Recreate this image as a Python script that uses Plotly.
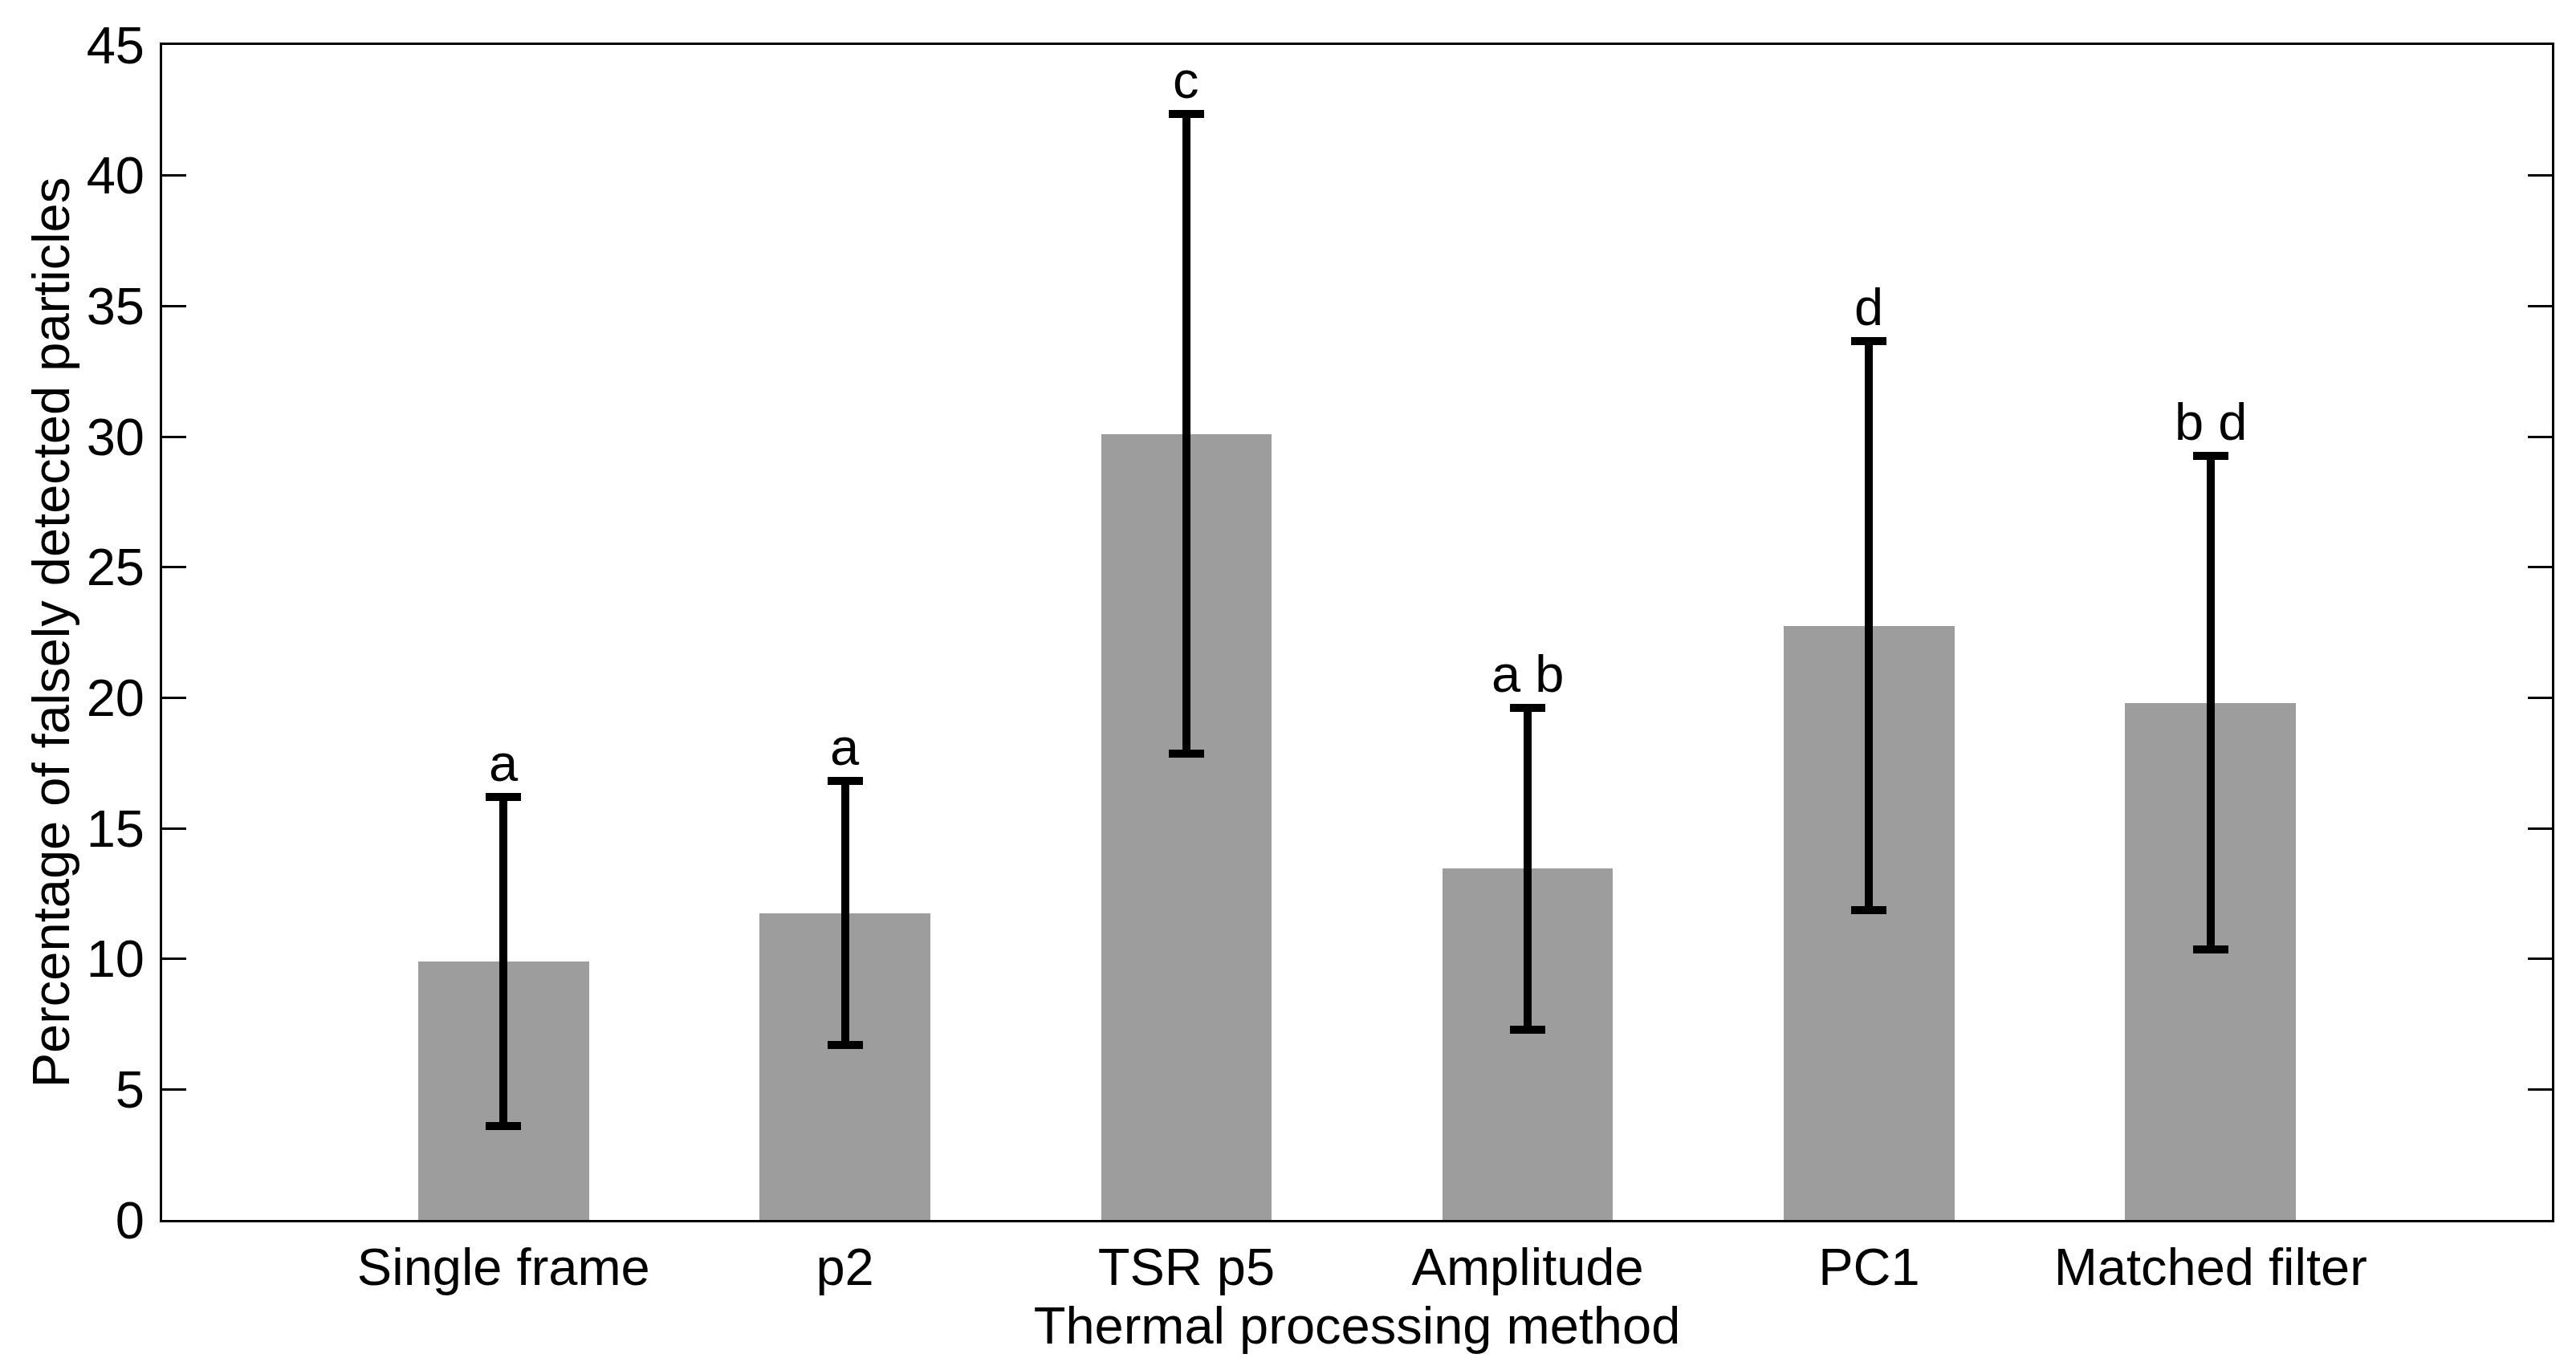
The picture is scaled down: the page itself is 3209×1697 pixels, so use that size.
import plotly.graph_objects as go

# bar chart data
methods = ['Single frame', 'p2', 'TSR p5', 'Amplitude', 'PC1', 'Matched filter']
positions = [1, 2, 3, 4, 5, 6]
mean_pct = [9.9, 11.75, 30.1, 13.45, 22.75, 19.8]
err_pct = [6.3, 5.05, 12.25, 6.15, 10.9, 9.45]
group_letters = ['a', 'a', 'c', 'a b', 'd', 'b d']

FONT = 'Liberation Sans, Arial, sans-serif'
FS = 65

fig = go.Figure()

fig.add_trace(go.Bar(
    x=positions,
    y=mean_pct,
    width=0.5,
    marker=dict(color='#9d9d9d', line=dict(width=0)),
    error_y=dict(type='data', array=err_pct, visible=True,
                 color='black', thickness=10, width=22),
    showlegend=False
))

# significance letters above each error bar
for xpos, m, e, txt in zip(positions, mean_pct, err_pct, group_letters):
    fig.add_annotation(x=xpos, y=m + e, text=txt, showarrow=False,
                       yanchor='bottom', yshift=4,
                       font=dict(family=FONT, size=FS, color='black'))

# page body adds an 8px margin, so the figure is a bit smaller than the window
fig.update_layout(
    width=3193,
    height=1681,
    margin=dict(l=194, r=22, t=41, b=169),
    plot_bgcolor='white',
    paper_bgcolor='white',
    font=dict(family=FONT, size=FS, color='black'),
    bargap=0,
    xaxis=dict(
        range=[0, 7],
        tickmode='array',
        tickvals=positions,
        ticktext=methods,
        ticks='',
        ticklabelstandoff=0,
        showline=True, linecolor='black', linewidth=3, mirror=True,
        showgrid=False, zeroline=False,
        title=dict(text='Thermal processing method', standoff=0,
                   font=dict(family=FONT, size=FS)),
    ),
    # top axis only carries the inward category ticks
    xaxis2=dict(
        overlaying='x', side='top', anchor='y',
        range=[0, 7],
        tickmode='array', tickvals=positions,
        ticks='inside', ticklen=30, tickwidth=3, tickcolor='black',
        showticklabels=False, showgrid=False, zeroline=False, showline=False,
    ),
    yaxis=dict(
        range=[0, 45],
        dtick=5,
        ticks='inside', ticklen=30, tickwidth=3, tickcolor='black',
        showline=True, linecolor='black', linewidth=3, mirror='ticks',
        showgrid=False, zeroline=False,
        ticklabelstandoff=6,
        title=dict(text='Percentage of falsely detected particles', standoff=0,
                   font=dict(family=FONT, size=FS)),
    ),
)

fig.write_html("out.html")
